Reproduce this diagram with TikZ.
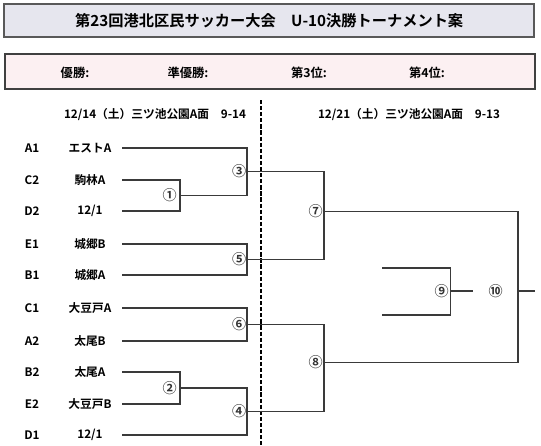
\documentclass[tikz,border=0pt]{standalone}
\usepackage{fontspec}
\setmainfont{Noto Sans CJK JP}[BoldFont={Noto Sans CJK JP Bold}]
\usetikzlibrary{positioning}
\definecolor{TitleGray}{HTML}{E6E6EE}
\definecolor{RankPink}{HTML}{FCF0F2}
\definecolor{LineGray}{HTML}{3A3A3A}
\tikzset{
  tm/titlebox/.style={draw=black!65, line width=1.8pt, fill=TitleGray, minimum width=15.9cm, minimum height=0.99cm, inner sep=0pt, font=\bfseries\fontsize{13}{15}\selectfont},
  tm/rankbox/.style={draw=black!75, line width=1.2pt, fill=RankPink, minimum width=15.9cm, minimum height=1.05cm, inner sep=0pt},
  tm/rank/.style={inner sep=1pt, font=\bfseries\fontsize{10.5}{12}\selectfont},
  tm/day/.style={inner sep=1pt},
  tm/code/.style={inner sep=1pt},
  tm/team/.style={minimum width=1.92cm, inner xsep=0pt, inner ysep=1pt},
  tm/no/.style={inner sep=0pt, text=black!80, font=\bfseries\fontsize{12}{12}\selectfont},
  tm/line/.style={draw=LineGray, line width=1.1pt},
  tm/divider/.style={draw=black, line width=1.7pt, dash pattern=on 3.6pt off 1.6pt}
}
\begin{document}
\begin{tikzpicture}[x=0.03cm, y=-0.03cm, font=\bfseries\fontsize{10}{12}\selectfont]
\useasboundingbox (0,0) rectangle (541,445);
% header boxes
\node[tm/titlebox] (title) at (269.2,20.5) {第23回港北区民サッカー大会　U-10決勝トーナメント案};
\node[tm/rankbox] (ranks) at (270,71.5) {};
\node[tm/rank] (first) at (75,73) {優勝:};
\node[tm/rank] (second) at (188,73) {準優勝:};
\node[tm/rank] (third) at (309,73) {第3位:};
\node[tm/rank] (fourth) at (427,73) {第4位:};
% days
\coordinate (divtop) at (260.5,100);
\coordinate (divbot) at (260.5,445);
\draw[tm/divider] (divtop) -- (divbot);
\node[tm/day] (day1) at (155,115) {12/14（土）三ツ池公園A面　9-14};
\node[tm/day] (day2) at (409,115) {12/21（土）三ツ池公園A面　9-13};
% teams
\node[tm/code] (cA1) at (32,148) {A1};
\node[tm/code] (cC2) at (32,180) {C2};
\node[tm/code] (cD2) at (32,211) {D2};
\node[tm/code] (cE1) at (32,244) {E1};
\node[tm/code] (cB1) at (32,275) {B1};
\node[tm/code] (cC1) at (32,308) {C1};
\node[tm/code] (cA2) at (32,341) {A2};
\node[tm/code] (cB2) at (32,372) {B2};
\node[tm/code] (cE2) at (32,404) {E2};
\node[tm/code] (cD1) at (32,435) {D1};
\node[tm/team] (tA1) at (90,148) {エストA};
\node[tm/team] (tC2) at (90,180) {駒林A};
\node[tm/team] (tD2) at (90,211) {12/1};
\node[tm/team] (tE1) at (90,244) {城郷B};
\node[tm/team] (tB1) at (90,275) {城郷A};
\node[tm/team] (tC1) at (90,308) {大豆戸A};
\node[tm/team] (tA2) at (90,341) {太尾B};
\node[tm/team] (tB2) at (90,372) {太尾A};
\node[tm/team] (tE2) at (90,404) {大豆戸B};
\node[tm/team] (tD1) at (90,435) {12/1};
% match points
\coordinate (m1) at (180,195.5);
\coordinate (m2) at (180,388);
\coordinate (m3) at (247,171.5);
\coordinate (m4) at (247,411.5);
\coordinate (m5) at (247,259.5);
\coordinate (m6) at (247,324.5);
\coordinate (m7) at (324,211.5);
\coordinate (m8) at (324,362.5);
\coordinate (m9) at (450.5,291);
\coordinate (m10) at (518,291);
\coordinate (l9a) at (382,268);
\coordinate (l9b) at (382,315);
\coordinate (o9) at (473,291);
\coordinate (o10) at (535,291);
% brackets
\draw[tm/line] (tC2.east) -| (m1) |- (tD2.east);
\draw[tm/line] (tB2.east) -| (m2) |- (tE2.east);
\draw[tm/line] (tA1.east) -| (m3) |- (m1);
\draw[tm/line] (m2) -| (m4) |- (tD1.east);
\draw[tm/line] (tE1.east) -| (m5) |- (tB1.east);
\draw[tm/line] (tC1.east) -| (m6) |- (tA2.east);
\draw[tm/line] (m3) -| (m7) |- (m5);
\draw[tm/line] (m6) -| (m8) |- (m4);
\draw[tm/line] (m7) -| (m10) |- (m8);
\draw[tm/line] (l9a) -| (m9) |- (l9b);
\draw[tm/line] (m9) -- (o9);
\draw[tm/line] (m10) -- (o10);
% match numbers
\node[tm/no, left=0.9mm of m1] (n1) {①};
\node[tm/no, left=0.9mm of m2] (n2) {②};
\node[tm/no, left=0.15mm of m3] (n3) {③};
\node[tm/no, left=0.15mm of m4] (n4) {④};
\node[tm/no, left=0.15mm of m5] (n5) {⑤};
\node[tm/no, left=0.15mm of m6] (n6) {⑥};
\node[tm/no, left=0.3mm of m7] (n7) {⑦};
\node[tm/no, left=0.3mm of m8] (n8) {⑧};
\node[tm/no, left=0.45mm of m9] (n9) {⑨};
\node[tm/no, left=4.5mm of m10] (n10) {⑩};
\end{tikzpicture}
\end{document}
